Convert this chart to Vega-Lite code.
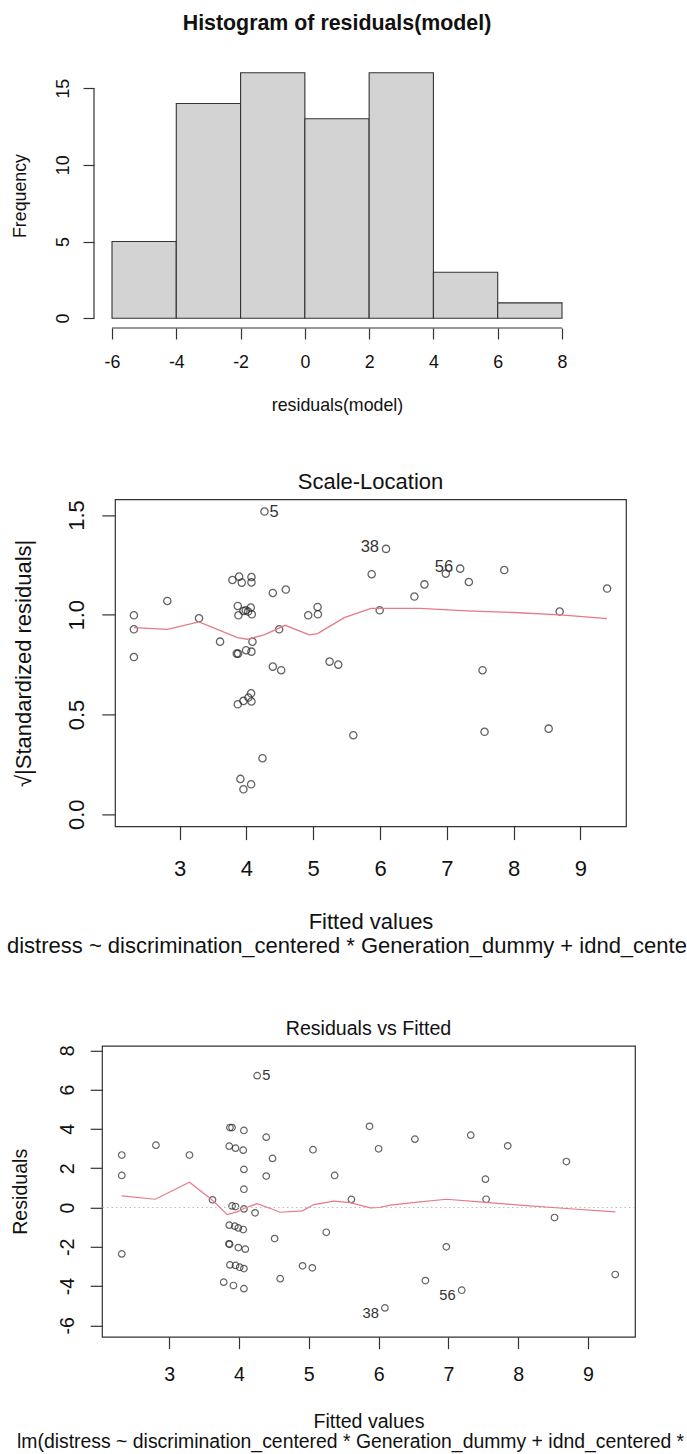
{
  "$schema": "https://vega.github.io/schema/vega-lite/v6.json",
  "background": "white",
  "padding": {"left": 7, "top": 12, "right": 0, "bottom": 4},
  "autosize": {"type": "pad"},
  "spacing": 55.4,
  "config": {
    "font": "Liberation Sans",
    "view": {"stroke": null},
    "axis": {"grid": false, "domain": false, "tickColor": "#333", "tickWidth": 1.2, "labelColor": "#111", "titleColor": "#111", "labelFont": "Liberation Sans", "titleFont": "Liberation Sans", "titleFontWeight": "normal", "labelOverlap": false, "labelFlush": false, "labelBound": false},
    "title": {"font": "Liberation Sans", "color": "#111", "fontWeight": "normal"}
  },
  "datasets": {
    "hist": [
      {"bin_start": -6, "bin_end": -4, "count": 5},
      {"bin_start": -4, "bin_end": -2, "count": 14},
      {"bin_start": -2, "bin_end": 0, "count": 16},
      {"bin_start": 0, "bin_end": 2, "count": 13},
      {"bin_start": 2, "bin_end": 4, "count": 16},
      {"bin_start": 4, "bin_end": 6, "count": 3},
      {"bin_start": 6, "bin_end": 8, "count": 1}
    ],
    "sl": [
      {"fitted": 2.315, "sqrt_std": 0.997}, {"fitted": 2.315, "sqrt_std": 0.927}, {"fitted": 2.315, "sqrt_std": 0.788},
      {"fitted": 2.815, "sqrt_std": 1.069}, {"fitted": 3.29, "sqrt_std": 0.982}, {"fitted": 3.605, "sqrt_std": 0.865},
      {"fitted": 3.79, "sqrt_std": 1.174}, {"fitted": 3.89, "sqrt_std": 1.191}, {"fitted": 3.93, "sqrt_std": 1.161},
      {"fitted": 4.075, "sqrt_std": 1.189}, {"fitted": 4.075, "sqrt_std": 1.162}, {"fitted": 3.87, "sqrt_std": 1.044},
      {"fitted": 3.88, "sqrt_std": 0.997}, {"fitted": 3.955, "sqrt_std": 1.019}, {"fitted": 3.99, "sqrt_std": 1.022},
      {"fitted": 4.025, "sqrt_std": 1.016}, {"fitted": 4.065, "sqrt_std": 1.036}, {"fitted": 4.08, "sqrt_std": 1.002},
      {"fitted": 4.395, "sqrt_std": 1.109}, {"fitted": 4.59, "sqrt_std": 1.126}, {"fitted": 4.27, "sqrt_std": 1.517, "label": "5"},
      {"fitted": 4.09, "sqrt_std": 0.865}, {"fitted": 3.855, "sqrt_std": 0.805}, {"fitted": 3.875, "sqrt_std": 0.805},
      {"fitted": 3.995, "sqrt_std": 0.822}, {"fitted": 4.075, "sqrt_std": 0.815}, {"fitted": 4.49, "sqrt_std": 0.927},
      {"fitted": 4.395, "sqrt_std": 0.74}, {"fitted": 4.52, "sqrt_std": 0.722}, {"fitted": 3.87, "sqrt_std": 0.551},
      {"fitted": 3.955, "sqrt_std": 0.568}, {"fitted": 4.03, "sqrt_std": 0.585}, {"fitted": 4.07, "sqrt_std": 0.606},
      {"fitted": 4.075, "sqrt_std": 0.565}, {"fitted": 4.24, "sqrt_std": 0.281}, {"fitted": 3.91, "sqrt_std": 0.177},
      {"fitted": 3.955, "sqrt_std": 0.125}, {"fitted": 4.07, "sqrt_std": 0.15}, {"fitted": 4.925, "sqrt_std": 0.997},
      {"fitted": 5.065, "sqrt_std": 1.039}, {"fitted": 5.07, "sqrt_std": 1.002}, {"fitted": 5.245, "sqrt_std": 0.765},
      {"fitted": 5.375, "sqrt_std": 0.75}, {"fitted": 5.6, "sqrt_std": 0.396}, {"fitted": 5.875, "sqrt_std": 1.203},
      {"fitted": 6.09, "sqrt_std": 1.33, "label": "38"}, {"fitted": 5.995, "sqrt_std": 1.022}, {"fitted": 6.515, "sqrt_std": 1.091},
      {"fitted": 6.665, "sqrt_std": 1.152}, {"fitted": 6.985, "sqrt_std": 1.206}, {"fitted": 7.2, "sqrt_std": 1.231, "label": "56"},
      {"fitted": 7.33, "sqrt_std": 1.164}, {"fitted": 7.86, "sqrt_std": 1.224}, {"fitted": 8.69, "sqrt_std": 1.016},
      {"fitted": 9.4, "sqrt_std": 1.131}, {"fitted": 7.535, "sqrt_std": 0.722}, {"fitted": 7.565, "sqrt_std": 0.413},
      {"fitted": 8.525, "sqrt_std": 0.429}
    ],
    "slsmooth": [
      {"fitted": 2.315, "sqrt_std": 0.935}, {"fitted": 2.815, "sqrt_std": 0.927}, {"fitted": 3.29, "sqrt_std": 0.964},
      {"fitted": 3.865, "sqrt_std": 0.885}, {"fitted": 4.015, "sqrt_std": 0.877}, {"fitted": 4.265, "sqrt_std": 0.899},
      {"fitted": 4.58, "sqrt_std": 0.947}, {"fitted": 4.94, "sqrt_std": 0.899}, {"fitted": 5.065, "sqrt_std": 0.905},
      {"fitted": 5.465, "sqrt_std": 0.985}, {"fitted": 5.865, "sqrt_std": 1.032}, {"fitted": 6.0, "sqrt_std": 1.032},
      {"fitted": 6.6, "sqrt_std": 1.032}, {"fitted": 7.3, "sqrt_std": 1.019}, {"fitted": 8.0, "sqrt_std": 1.011},
      {"fitted": 8.7, "sqrt_std": 0.999}, {"fitted": 9.4, "sqrt_std": 0.98}
    ],
    "rf": [
      {"fitted": 2.32, "resid": 2.67}, {"fitted": 2.32, "resid": 1.63}, {"fitted": 2.32, "resid": -2.36},
      {"fitted": 2.81, "resid": 3.17}, {"fitted": 3.29, "resid": 2.67}, {"fitted": 3.62, "resid": 0.39},
      {"fitted": 4.26, "resid": 6.71, "label": "5"}, {"fitted": 3.87, "resid": 4.07}, {"fitted": 3.9, "resid": 4.07},
      {"fitted": 4.07, "resid": 3.92}, {"fitted": 3.86, "resid": 3.12}, {"fitted": 3.95, "resid": 3.02},
      {"fitted": 4.06, "resid": 2.92}, {"fitted": 4.07, "resid": 1.94}, {"fitted": 4.07, "resid": 0.93},
      {"fitted": 3.9, "resid": 0.08}, {"fitted": 3.95, "resid": 0.05}, {"fitted": 4.07, "resid": -0.07},
      {"fitted": 4.23, "resid": -0.27}, {"fitted": 4.39, "resid": 3.58}, {"fitted": 4.48, "resid": 2.5},
      {"fitted": 4.39, "resid": 1.6}, {"fitted": 3.86, "resid": -0.9}, {"fitted": 3.94, "resid": -0.95},
      {"fitted": 3.99, "resid": -1.04}, {"fitted": 4.06, "resid": -1.12}, {"fitted": 3.855, "resid": -1.85},
      {"fitted": 3.865, "resid": -1.87}, {"fitted": 3.99, "resid": -2.04}, {"fitted": 4.09, "resid": -2.12},
      {"fitted": 3.87, "resid": -2.92}, {"fitted": 3.95, "resid": -2.95}, {"fitted": 4.01, "resid": -3.04},
      {"fitted": 4.07, "resid": -3.11}, {"fitted": 3.78, "resid": -3.8}, {"fitted": 3.92, "resid": -3.97},
      {"fitted": 4.07, "resid": -4.13}, {"fitted": 4.51, "resid": -1.58}, {"fitted": 4.59, "resid": -3.62},
      {"fitted": 4.91, "resid": -2.97}, {"fitted": 5.05, "resid": -3.07}, {"fitted": 5.06, "resid": 2.94},
      {"fitted": 5.25, "resid": -1.26}, {"fitted": 5.37, "resid": 1.63}, {"fitted": 5.61, "resid": 0.41},
      {"fitted": 5.87, "resid": 4.13}, {"fitted": 6.0, "resid": 2.99}, {"fitted": 6.09, "resid": -5.11, "label": "38"},
      {"fitted": 6.52, "resid": 3.48}, {"fitted": 6.67, "resid": -3.72}, {"fitted": 6.97, "resid": -2.0},
      {"fitted": 7.19, "resid": -4.21, "label": "56"}, {"fitted": 7.32, "resid": 3.68}, {"fitted": 7.53, "resid": 1.44},
      {"fitted": 7.54, "resid": 0.42}, {"fitted": 7.85, "resid": 3.14}, {"fitted": 8.52, "resid": -0.51},
      {"fitted": 8.69, "resid": 2.34}, {"fitted": 9.39, "resid": -3.41}
    ],
    "rfsmooth": [
      {"fitted": 2.32, "resid": 0.59}, {"fitted": 2.8, "resid": 0.42}, {"fitted": 3.29, "resid": 1.29},
      {"fitted": 3.62, "resid": 0.37}, {"fitted": 3.83, "resid": -0.36}, {"fitted": 3.97, "resid": -0.22},
      {"fitted": 4.07, "resid": -0.05}, {"fitted": 4.26, "resid": 0.2}, {"fitted": 4.45, "resid": -0.05},
      {"fitted": 4.59, "resid": -0.24}, {"fitted": 4.91, "resid": -0.17}, {"fitted": 5.07, "resid": 0.15},
      {"fitted": 5.36, "resid": 0.32}, {"fitted": 5.59, "resid": 0.25}, {"fitted": 5.88, "resid": -0.02},
      {"fitted": 6.01, "resid": 0.0}, {"fitted": 6.17, "resid": 0.12}, {"fitted": 6.49, "resid": 0.25},
      {"fitted": 6.97, "resid": 0.42}, {"fitted": 7.45, "resid": 0.29}, {"fitted": 8.02, "resid": 0.12},
      {"fitted": 8.69, "resid": -0.05}, {"fitted": 9.39, "resid": -0.22}
    ]
  },
  "vconcat": [
    {
      "width": 486,
      "height": 265,
      "title": {"text": "Histogram of residuals(model)", "fontSize": 21.36, "fontWeight": "bold", "offset": 29.14, "baseline": "top", "anchor": "middle", "frame": "group"},
      "layer": [
        {
          "data": {"name": "hist"},
          "mark": {"type": "rect", "fill": "#D3D3D3", "stroke": "#333", "strokeWidth": 1.1},
          "encoding": {
            "x": {"field": "bin_start", "type": "quantitative", "scale": {"domain": [-6.56, 8.56], "nice": false, "zero": false},
              "axis": {"values": [-6, -4, -2, 0, 2, 4, 6, 8], "tickSize": 11, "labelFontSize": 17.8, "labelBaseline": "alphabetic", "labelPadding": 28.5, "labelExpr": "'' + datum.value", "title": "residuals(model)", "titleFontSize": 17.8, "titleBaseline": "alphabetic", "titleY": 82.2}},
            "x2": {"field": "bin_end"},
            "y": {"field": "count", "type": "quantitative", "scale": {"domain": [-0.64, 16.64], "nice": false, "zero": false},
              "axis": {"values": [0, 5, 10, 15], "tickSize": 11, "labelFontSize": 17.8, "labelAngle": 270, "labelAlign": "center", "labelBaseline": "alphabetic", "labelPadding": 14.6, "title": "Frequency", "titleFontSize": 17.8, "titleAngle": 270, "titleBaseline": "alphabetic", "titleX": -68.4}},
            "y2": {"datum": 0}
          }
        },
        {
          "data": {"values": [{}]},
          "mark": {"type": "rule", "stroke": "#333", "strokeWidth": 1.2},
          "encoding": {
            "x": {"datum": -6, "type": "quantitative"},
            "x2": {"datum": 8},
            "y": {"datum": -0.64, "type": "quantitative"}
          }
        },
        {
          "data": {"values": [{}]},
          "mark": {"type": "rule", "stroke": "#333", "strokeWidth": 1.2},
          "encoding": {
            "x": {"datum": -6.56, "type": "quantitative"},
            "y": {"datum": 0, "type": "quantitative"},
            "y2": {"datum": 15}
          }
        }
      ]
    },
    {
      "spacing": 0,
      "bounds": "flush",
      "title": {"text": "distress ~ discrimination_centered * Generation_dummy + idnd_cente", "orient": "bottom", "anchor": "start", "frame": "group", "dx": -87, "offset": 3.4, "baseline": "top", "fontSize": 22, "fontWeight": "normal"},
      "hconcat": [
        {"width": 21, "height": 10, "data": {"values": []}, "mark": "point"},
        {
          "width": 511,
          "height": 327,
          "view": {"stroke": "#333", "strokeWidth": 1.2},
          "title": {"text": "Scale-Location", "fontSize": 22, "offset": 5.6, "baseline": "top", "anchor": "middle", "frame": "group"},
          "layer": [
            {
              "data": {"name": "sl"},
              "mark": {"type": "point", "shape": "circle", "filled": false, "color": "#222", "size": 53, "strokeWidth": 1.3},
              "encoding": {
                "x": {"field": "fitted", "type": "quantitative", "scale": {"domain": [2.032, 9.683], "nice": false, "zero": false},
                  "axis": {"values": [3, 4, 5, 6, 7, 8, 9], "tickSize": 13.2, "labelFontSize": 22, "labelBaseline": "alphabetic", "labelPadding": 35.6, "labelExpr": "'' + datum.value", "title": "Fitted values", "titleFontSize": 22, "titleBaseline": "alphabetic", "titleY": 101.6}},
                "y": {"field": "sqrt_std", "type": "quantitative", "scale": {"domain": [-0.061, 1.578], "nice": false, "zero": false},
                  "axis": {"values": [0, 0.5, 1, 1.5], "format": ".1f", "tickSize": 13.2, "labelFontSize": 22, "labelAngle": 270, "labelAlign": "center", "labelBaseline": "alphabetic", "labelPadding": 18.5, "title": "√|Standardized residuals|", "titleFontSize": 22, "titleAngle": 270, "titleBaseline": "alphabetic", "titleX": -84.5}}
              }
            },
            {
              "data": {"name": "slsmooth"},
              "mark": {"type": "line", "color": "#E57A8A", "strokeWidth": 1.3},
              "encoding": {
                "x": {"field": "fitted", "type": "quantitative"},
                "y": {"field": "sqrt_std", "type": "quantitative"}
              }
            },
            {
              "data": {"name": "sl"},
              "transform": [{"filter": "datum.label == '5'"}],
              "mark": {"type": "text", "align": "left", "baseline": "middle", "dx": 5, "dy": 0.5, "fontSize": 16.5, "color": "#333"},
              "encoding": {
                "x": {"field": "fitted", "type": "quantitative"},
                "y": {"field": "sqrt_std", "type": "quantitative"},
                "text": {"field": "label", "type": "nominal"}
              }
            },
            {
              "data": {"name": "sl"},
              "transform": [{"filter": "datum.label == '38' || datum.label == '56'"}],
              "mark": {"type": "text", "align": "right", "baseline": "middle", "dx": -7, "dy": -1.5, "fontSize": 16.5, "color": "#333"},
              "encoding": {
                "x": {"field": "fitted", "type": "quantitative"},
                "y": {"field": "sqrt_std", "type": "quantitative"},
                "text": {"field": "label", "type": "nominal"}
              }
            }
          ]
        }
      ]
    },
    {
      "spacing": 0,
      "bounds": "flush",
      "title": {"text": "lm(distress ~ discrimination_centered * Generation_dummy + idnd_centered *", "orient": "bottom", "anchor": "start", "frame": "group", "dx": -77, "offset": 1.8, "baseline": "top", "fontSize": 19.4, "fontWeight": "normal"},
      "hconcat": [
        {"width": 8, "height": 10, "data": {"values": []}, "mark": "point"},
        {
          "width": 533,
          "height": 291,
          "view": {"stroke": "#333", "strokeWidth": 1.2},
          "title": {"text": ["", "Residuals vs Fitted"], "lineHeight": 4.6, "fontSize": 19.6, "offset": 5.4, "baseline": "top", "anchor": "middle", "frame": "group"},
          "layer": [
            {
              "data": {"name": "rf"},
              "mark": {"type": "point", "shape": "circle", "filled": false, "color": "#222", "size": 43, "strokeWidth": 1.2},
              "encoding": {
                "x": {"field": "fitted", "type": "quantitative", "scale": {"domain": [2.037, 9.673], "nice": false, "zero": false},
                  "axis": {"values": [3, 4, 5, 6, 7, 8, 9], "tickSize": 11.8, "labelFontSize": 19.6, "labelBaseline": "alphabetic", "labelPadding": 31.7, "labelExpr": "'' + datum.value", "title": "Fitted values", "titleFontSize": 19.6, "titleBaseline": "alphabetic", "titleY": 90.6}},
                "y": {"field": "resid", "type": "quantitative", "scale": {"domain": [-6.58, 8.23], "nice": false, "zero": false},
                  "axis": {"values": [-6, -4, -2, 0, 2, 4, 6, 8], "tickSize": 11.8, "labelFontSize": 19.6, "labelAngle": 270, "labelAlign": "center", "labelBaseline": "alphabetic", "labelPadding": 16.4, "labelExpr": "'' + datum.value", "title": "Residuals", "titleFontSize": 19.6, "titleAngle": 270, "titleBaseline": "alphabetic", "titleX": -75.3}}
              }
            },
            {
              "data": {"values": [{}]},
              "mark": {"type": "rule", "stroke": "#BEBEBE", "strokeDash": [1.5, 3], "strokeWidth": 1.2},
              "encoding": {
                "y": {"datum": 0, "type": "quantitative"}
              }
            },
            {
              "data": {"name": "rfsmooth"},
              "mark": {"type": "line", "color": "#E57A8A", "strokeWidth": 1.2},
              "encoding": {
                "x": {"field": "fitted", "type": "quantitative"},
                "y": {"field": "resid", "type": "quantitative"}
              }
            },
            {
              "data": {"name": "rf"},
              "transform": [{"filter": "datum.label == '5'"}],
              "mark": {"type": "text", "align": "left", "baseline": "middle", "dx": 5, "dy": 0.5, "fontSize": 14.7, "color": "#333"},
              "encoding": {
                "x": {"field": "fitted", "type": "quantitative"},
                "y": {"field": "resid", "type": "quantitative"},
                "text": {"field": "label", "type": "nominal"}
              }
            },
            {
              "data": {"name": "rf"},
              "transform": [{"filter": "datum.label == '38' || datum.label == '56'"}],
              "mark": {"type": "text", "align": "right", "baseline": "middle", "dx": -6, "dy": 6, "fontSize": 14.7, "color": "#333"},
              "encoding": {
                "x": {"field": "fitted", "type": "quantitative"},
                "y": {"field": "resid", "type": "quantitative"},
                "text": {"field": "label", "type": "nominal"}
              }
            }
          ]
        }
      ]
    }
  ]
}
